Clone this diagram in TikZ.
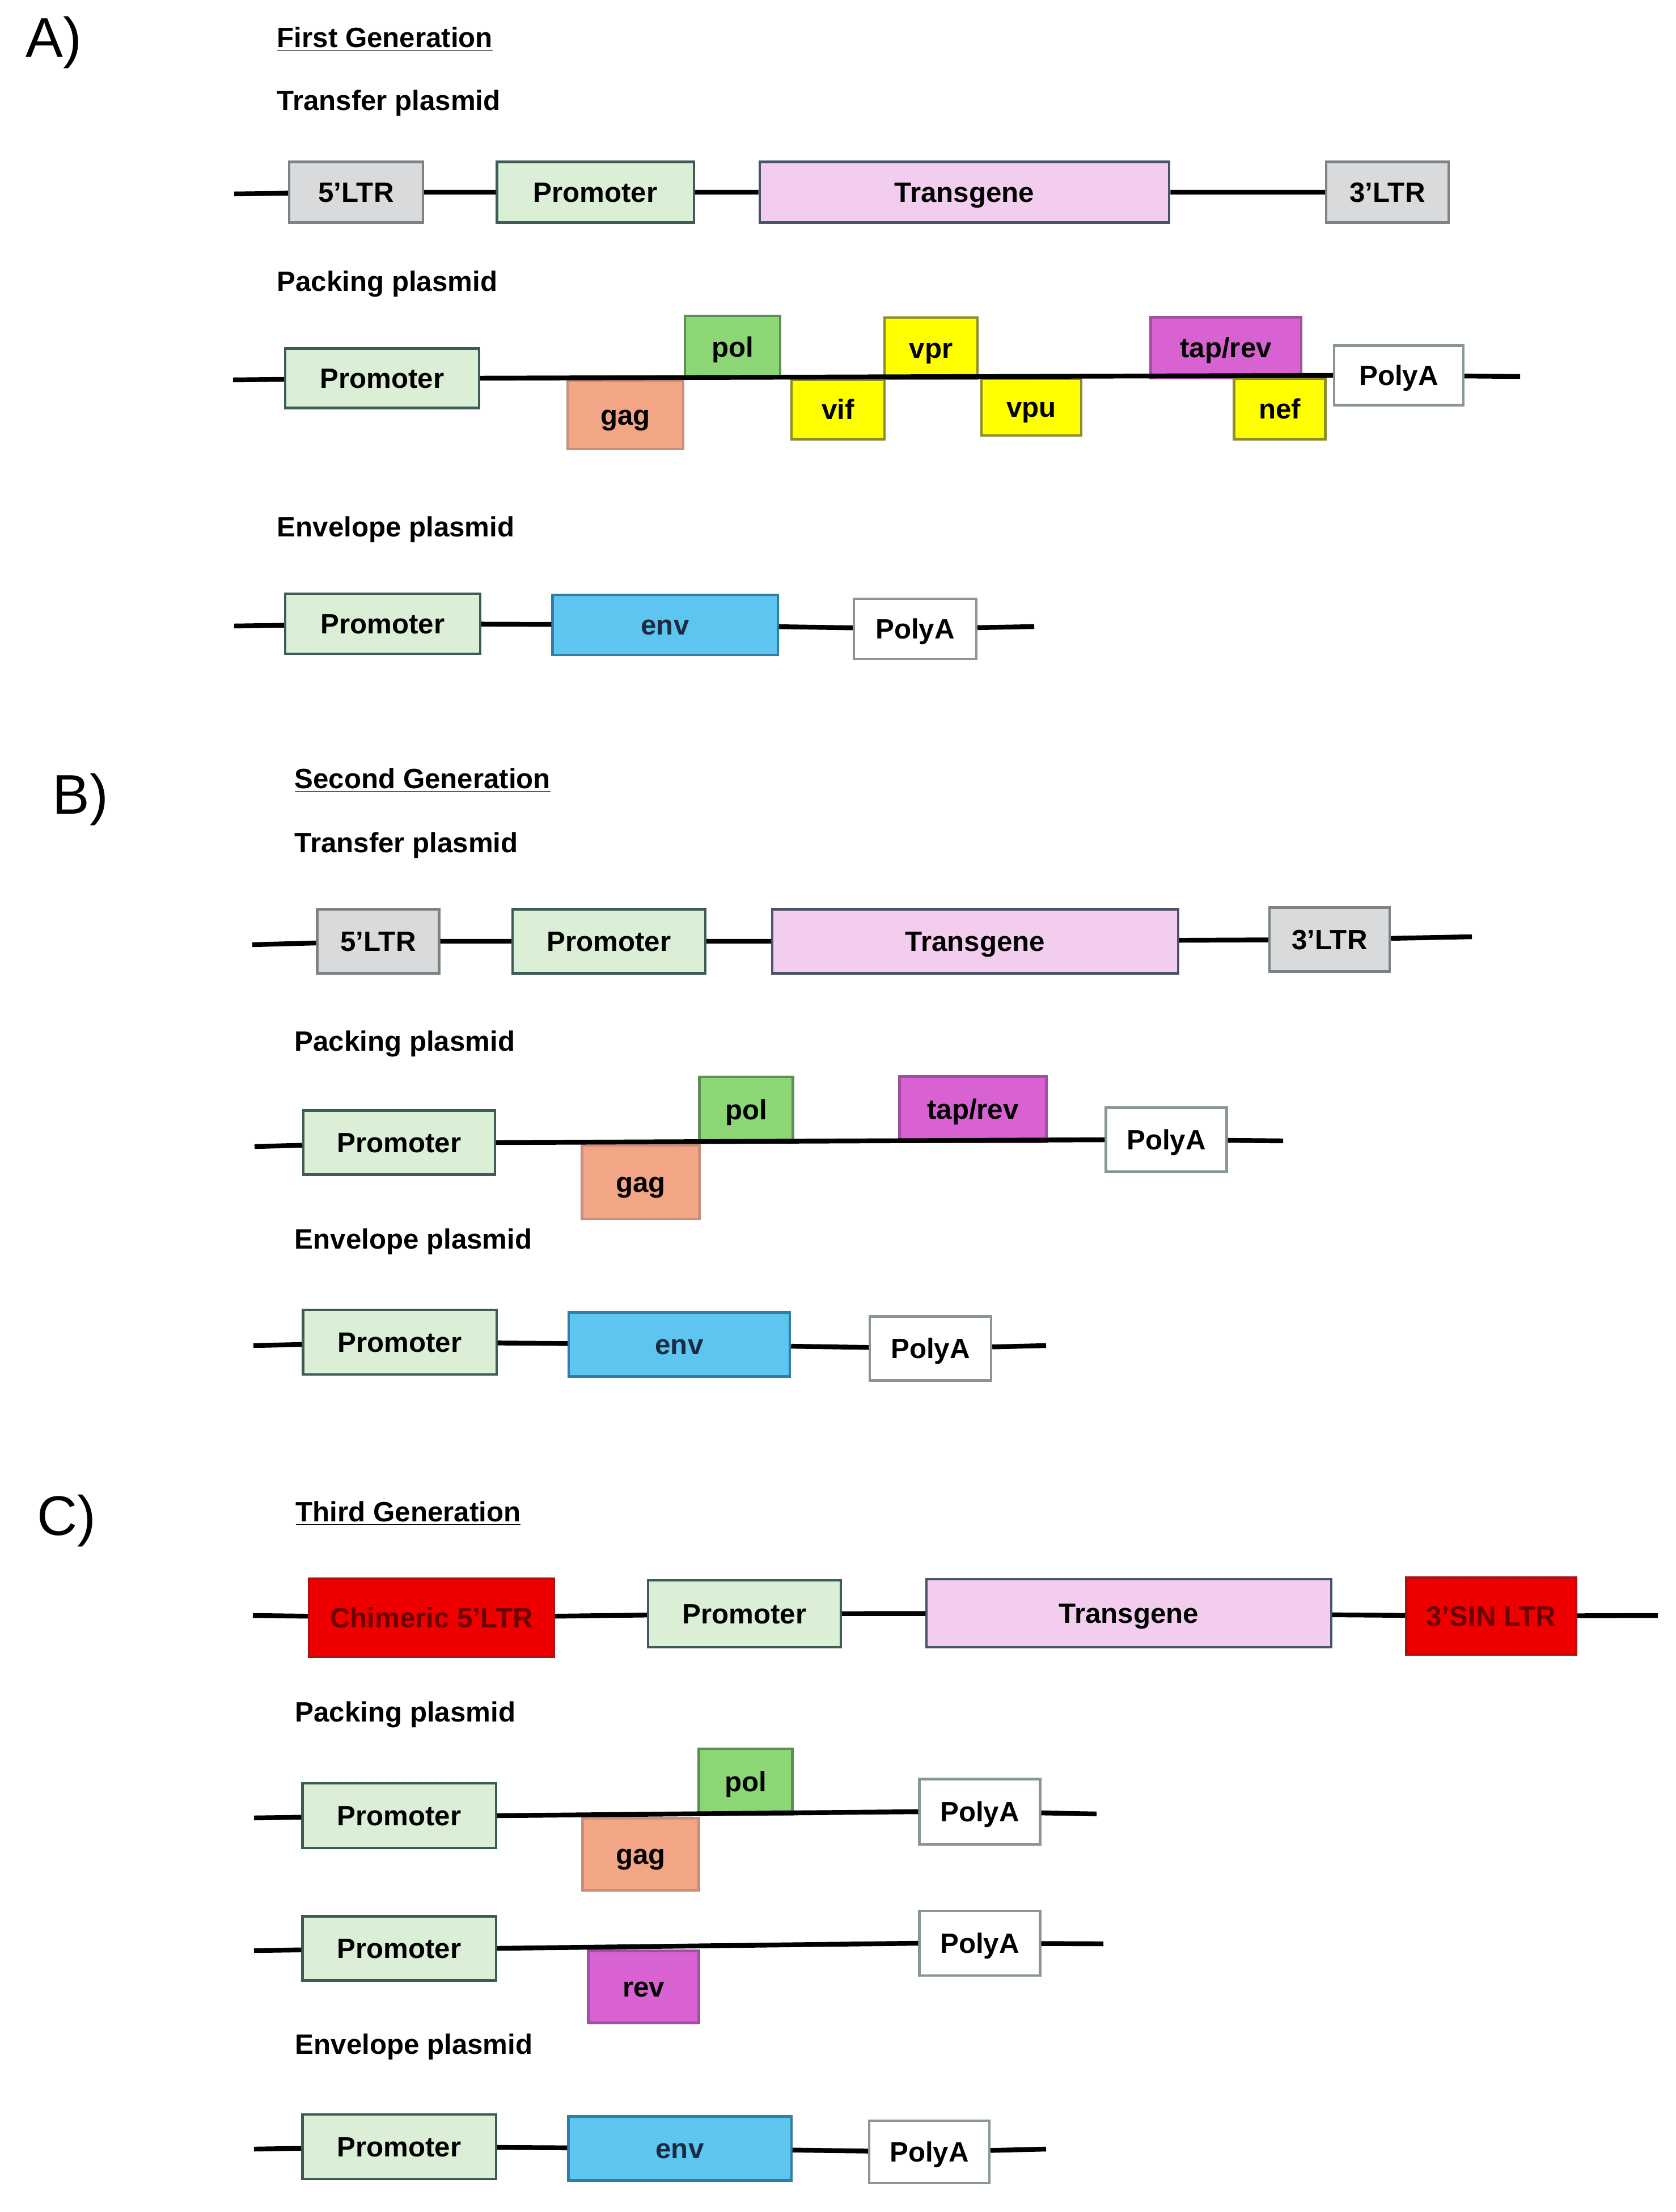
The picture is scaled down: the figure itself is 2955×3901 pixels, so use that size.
\documentclass[tikz,border=0pt]{standalone}
\usepackage{fontspec}
\setmainfont{Liberation Sans}
\definecolor{ltrfill}{HTML}{D8DADB}\definecolor{ltrline}{HTML}{7C8285}
\definecolor{profill}{HTML}{DAEFD6}\definecolor{proline}{HTML}{3E5C56}
\definecolor{tgfill}{HTML}{F3CDEE}\definecolor{tgline}{HTML}{4A5468}
\definecolor{gagfill}{HTML}{F2A685}\definecolor{gagline}{HTML}{C8907A}
\definecolor{polfill}{HTML}{8DD675}\definecolor{polline}{HTML}{5E8E55}
\definecolor{accfill}{HTML}{FFFF00}\definecolor{accline}{HTML}{8C8C2A}
\definecolor{revfill}{HTML}{D862D2}\definecolor{revline}{HTML}{A050A0}
\definecolor{pAline}{HTML}{8A9696}
\definecolor{envfill}{HTML}{5DC5F0}\definecolor{envline}{HTML}{2F7FA0}\definecolor{envtext}{HTML}{1A2A40}
\definecolor{redfill}{HTML}{EE0000}\definecolor{redline}{HTML}{B01010}\definecolor{redtext}{HTML}{6B0000}
\begin{document}
\begin{tikzpicture}[x=0.01cm,y=-0.01cm,
  gene/.style={draw,line width=1.2pt,inner sep=0pt,text height=10pt,text depth=0pt,
    font=\fontsize{14}{16}\selectfont\bfseries},
  sz/.style 2 args={minimum width=#1cm,minimum height=#2cm},
  ltr/.style={gene,fill=ltrfill,draw=ltrline},
  promo/.style={gene,fill=profill,draw=proline},
  tgene/.style={gene,fill=tgfill,draw=tgline},
  gagbox/.style={gene,fill=gagfill,draw=gagline},
  polbox/.style={gene,fill=polfill,draw=polline},
  acc/.style={gene,fill=accfill,draw=accline},
  revbox/.style={gene,fill=revfill,draw=revline},
  polya/.style={gene,fill=white,draw=pAline},
  envbox/.style={gene,fill=envfill,draw=envline,text=envtext},
  sin/.style={gene,fill=redfill,draw=redline,text=redtext},
  dna/.style={line width=2.4pt},
  title/.style={anchor=base west,inner sep=0pt,font=\fontsize{14}{16}\selectfont\bfseries},
  panel/.style={font=\fontsize{28}{30}\selectfont}]
\useasboundingbox (0,0) rectangle (2955,3901);
\node[panel] (lblA) at (95,75) {A)};
\node[title] (genA) at (488,84) {\underline{First Generation}};
\node[title] (trA) at (488,195) {Transfer plasmid};
\coordinate (trAin) at (413,342);
\node[ltr,sz={2.36}{1.07}] (ltrA5) at (628,339) {5’LTR};
\node[promo,sz={3.47}{1.07}] (proA) at (1050,339) {Promoter};
\node[tgene,sz={7.22}{1.07}] (tgA) at (1701,339) {Transgene};
\node[ltr,sz={2.16}{1.07}] (ltrA3) at (2447,339) {3’LTR};
\draw[dna] (trAin) -- (ltrA5) (ltrA5) -- (proA) (proA) -- (tgA) (tgA) -- (ltrA3);
\node[title] (pkA) at (488,514) {Packing plasmid};
\coordinate (pkAin) at (411,670);
\coordinate (pkAout) at (2681,664);
\node[promo,sz={3.42}{1.05}] (proA2) at (674,667) {Promoter};
\node[gagbox,sz={2.04}{1.20}] (gagA) at (1103,732) {gag};
\node[polbox,sz={1.68}{1.10}] (polA) at (1292,612) {pol};
\node[acc,sz={1.64}{1.05}] (vifA) at (1478,722) {vif};
\node[acc,sz={1.64}{1.08}] (vprA) at (1642,614) {vpr};
\node[acc,sz={1.76}{1.00}] (vpuA) at (1819,718) {vpu};
\node[revbox,sz={2.65}{1.07}] (tapA) at (2162,613) {tap/rev};
\node[acc,sz={1.61}{1.07}] (nefA) at (2257,721) {nef};
\node[polya,sz={2.28}{1.05}] (pAA) at (2467,662) {PolyA};
\draw[dna] (pkAin) -- (proA2) (proA2.east) -- (pAA.west) (pAA) -- (pkAout);
\node[title] (enA) at (488,946) {Envelope plasmid};
\coordinate (enAin) at (413,1104);
\coordinate (enAout) at (1824,1105);
\node[promo,sz={3.44}{1.06}] (proA3) at (675,1100) {Promoter};
\node[envbox,sz={3.97}{1.06}] (envA) at (1173,1102) {env};
\node[polya,sz={2.16}{1.06}] (pAA3) at (1614,1109) {PolyA};
\draw[dna] (enAin) -- (proA3) (proA3) -- (envA) (envA) -- (pAA3) (pAA3) -- (enAout);

\node[panel] (lblB) at (142,1410) {B)};
\node[title] (genB) at (519,1390) {\underline{Second Generation}};
\node[title] (trB) at (519,1503) {Transfer plasmid};
\coordinate (trBin) at (445,1666);
\coordinate (trBout) at (2596,1652);
\node[ltr,sz={2.15}{1.13}] (ltrB5) at (667,1660) {5’LTR};
\node[promo,sz={3.40}{1.13}] (proB) at (1074,1660) {Promoter};
\node[tgene,sz={7.15}{1.13}] (tgB) at (1720,1660) {Transgene};
\node[ltr,sz={2.12}{1.13}] (ltrB3) at (2345,1657) {3’LTR};
\draw[dna] (trBin) -- (ltrB5) (ltrB5) -- (proB) (proB) -- (tgB) (tgB) -- (ltrB3) (ltrB3) -- (trBout);
\node[title] (pkB) at (519,1853) {Packing plasmid};
\coordinate (pkBin) at (449,2022);
\coordinate (pkBout) at (2263,2012);
\node[promo,sz={3.38}{1.13}] (proB2) at (704,2015) {Promoter};
\node[gagbox,sz={2.07}{1.30}] (gagB) at (1130,2085) {gag};
\node[polbox,sz={1.65}{1.16}] (polB) at (1316,1957) {pol};
\node[revbox,sz={2.59}{1.15}] (tapB) at (1716,1956) {tap/rev};
\node[polya,sz={2.13}{1.13}] (pAB) at (2057,2010) {PolyA};
\draw[dna] (pkBin) -- (proB2) (proB2.east) -- (pAB.west) (pAB) -- (pkBout);
\node[title] (enB) at (519,2202) {Envelope plasmid};
\coordinate (enBin) at (447,2373);
\coordinate (enBout) at (1845,2373);
\node[promo,sz={3.41}{1.14}] (proB3) at (705,2367) {Promoter};
\node[envbox,sz={3.90}{1.13}] (envB) at (1198,2371) {env};
\node[polya,sz={2.14}{1.13}] (pAB3) at (1641,2378) {PolyA};
\draw[dna] (enBin) -- (proB3) (proB3) -- (envB) (envB) -- (pAB3) (pAB3) -- (enBout);

\node[panel] (lblC) at (117,2682) {C)};
\node[title] (genC) at (521,2683) {\underline{Third Generation}};
\coordinate (trCin) at (446,2849);
\coordinate (trCout) at (2924,2849);
\node[sin,sz={4.31}{1.38}] (chimC) at (761,2853) {Chimeric 5’LTR};
\node[promo,sz={3.40}{1.18}] (proC) at (1313,2846) {Promoter};
\node[tgene,sz={7.13}{1.20}] (tgC) at (1991,2845) {Transgene};
\node[sin,sz={2.99}{1.35}] (sinC) at (2630,2850) {3’SIN LTR};
\draw[dna] (trCin) -- (chimC) (chimC) -- (proC) (proC) -- (tgC) (tgC) -- (sinC) (sinC) -- (trCout);
\node[title] (pkC) at (520,3036) {Packing plasmid};
\coordinate (pkCin) at (448,3206);
\coordinate (pkCout) at (1934,3199);
\node[promo,sz={3.41}{1.14}] (proC2) at (704,3202) {Promoter};
\node[gagbox,sz={2.05}{1.27}] (gagC) at (1130,3270) {gag};
\node[polbox,sz={1.65}{1.16}] (polC) at (1315,3142) {pol};
\node[polya,sz={2.13}{1.15}] (pAC) at (1728,3195) {PolyA};
\draw[dna] (pkCin) -- (proC2) (proC2.east) -- (pAC.west) (pAC) -- (pkCout);
\coordinate (rvCin) at (448,3440);
\coordinate (rvCout) at (1946,3428);
\node[promo,sz={3.41}{1.13}] (proC3) at (704,3436) {Promoter};
\node[revbox,sz={1.95}{1.27}] (revC) at (1135,3504) {rev};
\node[polya,sz={2.13}{1.14}] (pAC2) at (1728,3427) {PolyA};
\draw[dna] (rvCin) -- (proC3) (proC3.east) -- (pAC2.west) (pAC2) -- (rvCout);
\node[title] (enC) at (520,3622) {Envelope plasmid};
\coordinate (enCin) at (448,3790);
\coordinate (enCout) at (1845,3790);
\node[promo,sz={3.41}{1.14}] (proC4) at (704,3786) {Promoter};
\node[envbox,sz={3.93}{1.13}] (envC) at (1199,3789) {env};
\node[polya,sz={2.12}{1.10}] (pAC3) at (1639,3795) {PolyA};
\draw[dna] (enCin) -- (proC4) (proC4) -- (envC) (envC) -- (pAC3) (pAC3) -- (enCout);
\end{tikzpicture}
\end{document}
